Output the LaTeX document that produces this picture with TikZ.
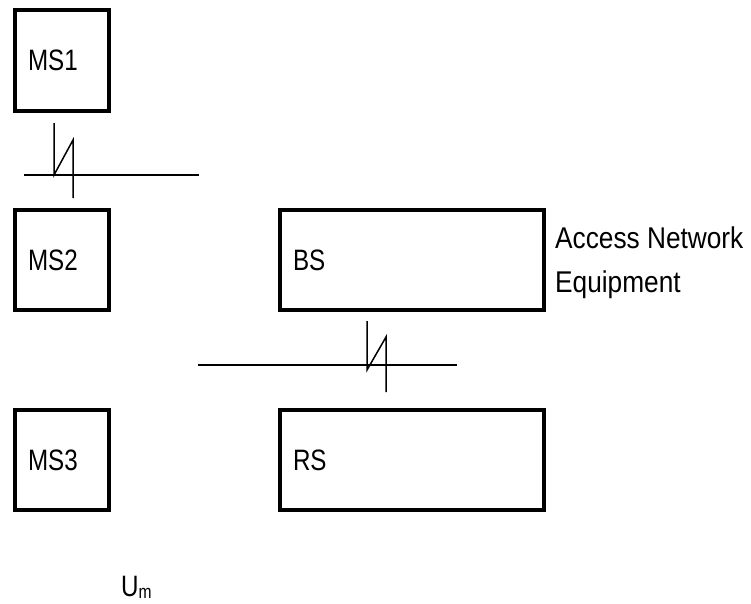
\documentclass[tikz,border=0pt]{standalone}
\usepackage{fontspec}
\setmainfont[FakeStretch=0.82]{Liberation Sans}
\newfontfamily\anfont[FakeStretch=0.875]{Liberation Sans}
\begin{document}
\begin{tikzpicture}[x=1pt,y=-1pt,
  lbl/.style={font=\fontsize{29.5}{34}\selectfont},
  box/.style={lbl,draw=black,line width=3.5pt,outer sep=0pt,inner xsep=13pt,align=left,anchor=north west},
  sbox/.style={box,minimum width=94pt,minimum height=100pt,text width=68pt},
  wbox/.style={box,minimum width=264pt,minimum height=100pt,text width=238pt},
  antext/.style={font=\anfont\fontsize{30}{34}\selectfont,anchor=base west,inner sep=0pt},
  wire/.style={line width=1.5pt,line cap=butt}]
\useasboundingbox (0,0) rectangle (751,603);
\node[sbox,minimum height=101pt] (ms1) at (15,10) {MS1};
\node[sbox] (ms2) at (15,210) {MS2};
\node[sbox] (ms3) at (15,410) {MS3};
\node[wbox] (bs) at (280,210) {BS};
\node[wbox] (rs) at (280,410) {RS};
\node[antext] (an1) at (555,248) {Access Network};
\node[antext] (an2) at (555,292) {Equipment};
\node[lbl,anchor=base west,inner sep=0pt] (um) at (121,596) {U\raisebox{-2pt}{\fontsize{19}{22}\selectfont m}};
% interface symbol 1
\coordinate (h1a) at (24,175); \coordinate (h1b) at (199,175);
\coordinate (a1t) at (54,123); \coordinate (a1b) at (54,175);
\coordinate (b1t) at (73,140); \coordinate (b1b) at (73,198);
\draw[wire] (h1a) -- (h1b);
\draw[wire] (a1t) -- (a1b) -- (b1t) -- (b1b);
% interface symbol 2
\coordinate (h2a) at (198,365); \coordinate (h2b) at (457,365);
\coordinate (a2t) at (367,321); \coordinate (a2b) at (367,370);
\coordinate (b2t) at (386,337); \coordinate (b2b) at (386,392);
\draw[wire] (h2a) -- (h2b);
\draw[wire] (a2t) -- (a2b) -- (b2t) -- (b2b);
\end{tikzpicture}
\end{document}
